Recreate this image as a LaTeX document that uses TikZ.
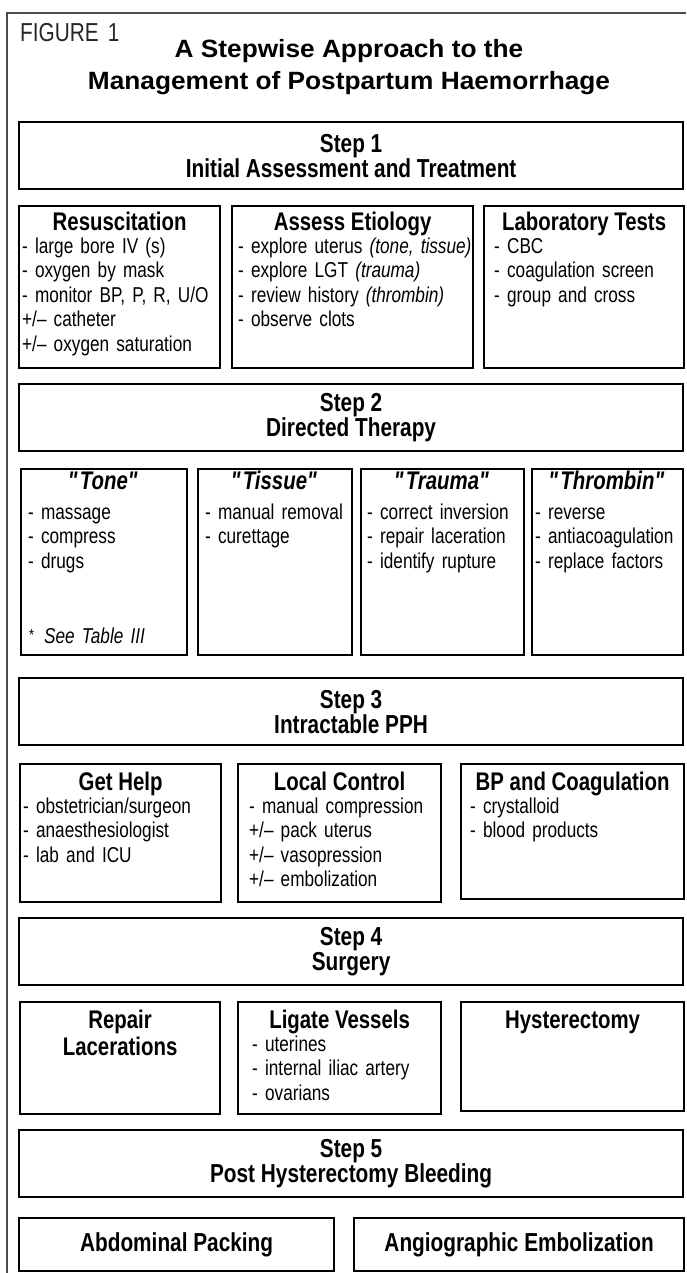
\documentclass[tikz,border=0pt]{standalone}
\usepackage{fontspec}
\setmainfont{Liberation Sans}[FakeStretch=0.8]
\newfontfamily\titlefont{Liberation Sans}[FakeStretch=1.05]
\usetikzlibrary{positioning}

% straight double quote, taken by glyph so that no mapping turns it round
\newcommand{\sq}{\XeTeXglyph\XeTeXcharglyph"22\relax}
\newcommand{\qt}[1]{\textit{\sq#1\sq}}

\begin{document}
\begin{tikzpicture}[x=1pt, y=-1pt,
    frame/.style={draw=black!70, line width=1.5pt},
    stepbox/.style={rectangle, draw=black, line width=2.2pt, minimum width=664pt, minimum height=67pt, anchor=north west, align=center, inner sep=0pt, font=\fontsize{26}{25}\selectfont\bfseries},
    box/.style={rectangle, draw=black, line width=2.2pt, anchor=north west, inner sep=0pt, font=\fontsize{26}{27}\selectfont\bfseries},
    head/.style={inner sep=0pt, align=center, font=\fontsize{25.5}{27}\selectfont\bfseries},
    items/.style={inner sep=0pt, text width=260pt, align=left, font=\fontsize{21.5}{24.5}\selectfont}
]
\useasboundingbox (0,0) rectangle (686,1273);

% Frame and title
\draw[frame] (7,1273) -- (7,13) -- (686,13);
\node[anchor=base west, inner sep=0pt, font=\fontsize{26}{30}\selectfont, text=black!85] (figno) at (20,42) {FIGURE\hspace{9pt}1};
\node[align=center, inner sep=0pt, font=\titlefont\bfseries\fontsize{25}{32}\selectfont] (title) at (349,67) {A Stepwise Approach to the\\Management of Postpartum Haemorrhage};

% Step 1
\node[stepbox] (step1) at (18,121) {Step 1\\Initial Assessment and Treatment};
\node[box, minimum width=201pt, minimum height=162pt] (resus) at (18,205) {};
\node[box, minimum width=241pt, minimum height=162pt] (assess) at (231,205) {};
\node[box, minimum width=200pt, minimum height=162pt] (labtests) at (483,205) {};
\node[head, below=25.5pt of resus.north, anchor=base] (resushead) {Resuscitation};
\node[head, below=25.5pt of assess.north, anchor=base] (assesshead) {Assess Etiology};
\node[head, below=25.5pt of labtests.north, anchor=base] (labhead) {Laboratory Tests};
\node[items, below right=48pt and 4pt of resus.north west, anchor=base west] (resuslist) {- large bore IV (s)\\- oxygen by mask\\- monitor BP, P, R, U/O\\+/-- catheter\\+/-- oxygen saturation};
\node[items, below right=48pt and 7pt of assess.north west, anchor=base west] (assesslist) {- explore uterus \textit{(tone, tissue)}\\- explore LGT \textit{(trauma)}\\- review history \textit{(thrombin)}\\- observe clots};
\node[items, below right=48pt and 11pt of labtests.north west, anchor=base west] (lablist) {- CBC\\- coagulation screen\\- group and cross};

% Step 2
\node[stepbox] (step2) at (18,383) {Step 2\\Directed Therapy};
\node[box, minimum width=166pt, minimum height=186pt] (tone) at (20,468) {};
\node[box, minimum width=154pt, minimum height=186pt] (tissue) at (197,468) {};
\node[box, minimum width=163pt, minimum height=186pt] (trauma) at (360,468) {};
\node[box, minimum width=151pt, minimum height=186pt] (thrombin) at (531,468) {};
\node[head, below=21pt of tone.north, anchor=base] (tonehead) {\qt{Tone}};
\node[head, below=21pt of tissue.north, anchor=base] (tissuehead) {\qt{Tissue}};
\node[head, below=21pt of trauma.north, anchor=base] (traumahead) {\qt{Trauma}};
\node[head, below=21pt of thrombin.north, anchor=base] (thrombinhead) {\qt{Thrombin}};
\node[items, below right=51pt and 8pt of tone.north west, anchor=base west] (tonelist) {- massage\\- compress\\- drugs};
\node[items, below right=51pt and 8pt of tissue.north west, anchor=base west] (tissuelist) {- manual removal\\- curettage};
\node[items, below right=51pt and 7pt of trauma.north west, anchor=base west] (traumalist) {- correct inversion\\- repair laceration\\- identify rupture};
\node[items, below right=51pt and 4pt of thrombin.north west, anchor=base west] (thrombinlist) {- reverse\\- antiacoagulation\\- replace factors};
\node[items, above right=13pt and 9pt of tone.south west, anchor=base west] (tonenote) {{\fontsize{16}{16}\selectfont\raisebox{3pt}{*}}\hspace{10pt}\textit{See Table III}};

% Step 3
\node[stepbox] (step3) at (18,677) {Step 3\\Intractable PPH};
\node[box, minimum width=201pt, minimum height=138pt] (gethelp) at (19,763) {};
\node[box, minimum width=203pt, minimum height=138pt] (localctrl) at (237,763) {};
\node[box, minimum width=223pt, minimum height=135pt] (bpcoag) at (460,763) {};
\node[head, below=27.5pt of gethelp.north, anchor=base] (gethelphead) {Get Help};
\node[head, below=27.5pt of localctrl.north, anchor=base] (localhead) {Local Control};
\node[head, below=27.5pt of bpcoag.north, anchor=base] (bphead) {BP and Coagulation};
\node[items, below right=50pt and 4pt of gethelp.north west, anchor=base west] (gethelplist) {- obstetrician/surgeon\\- anaesthesiologist\\- lab and ICU};
\node[items, below right=50pt and 12pt of localctrl.north west, anchor=base west] (locallist) {- manual compression\\+/-- pack uterus\\+/-- vasopression\\+/-- embolization};
\node[items, below right=50pt and 10pt of bpcoag.north west, anchor=base west] (bplist) {- crystalloid\\- blood products};

% Step 4
\node[stepbox] (step4) at (18,917) {Step 4\\Surgery};
\node[box, minimum width=200pt, minimum height=112pt] (repair) at (19,1001) {};
\node[box, minimum width=203pt, minimum height=112pt] (ligate) at (237,1001) {};
\node[box, minimum width=223pt, minimum height=109pt] (hyster) at (460,1001) {};
\node[head, below=54.5pt of repair.north, anchor=base] (repairhead) {Repair\\Lacerations};
\node[head, below=27.5pt of ligate.north, anchor=base] (ligatehead) {Ligate Vessels};
\node[head, below=27.5pt of hyster.north, anchor=base] (hysterhead) {Hysterectomy};
\node[items, below right=50pt and 15pt of ligate.north west, anchor=base west] (ligatelist) {- uterines\\- internal iliac artery\\- ovarians};

% Step 5
\node[stepbox] (step5) at (18,1129) {Step 5\\Post Hysterectomy Bleeding};
\node[box, minimum width=315pt, minimum height=53pt] (packing) at (18,1217) {Abdominal Packing};
\node[box, minimum width=330pt, minimum height=53pt] (emboli) at (353,1217) {Angiographic Embolization};

\end{tikzpicture}
\end{document}
